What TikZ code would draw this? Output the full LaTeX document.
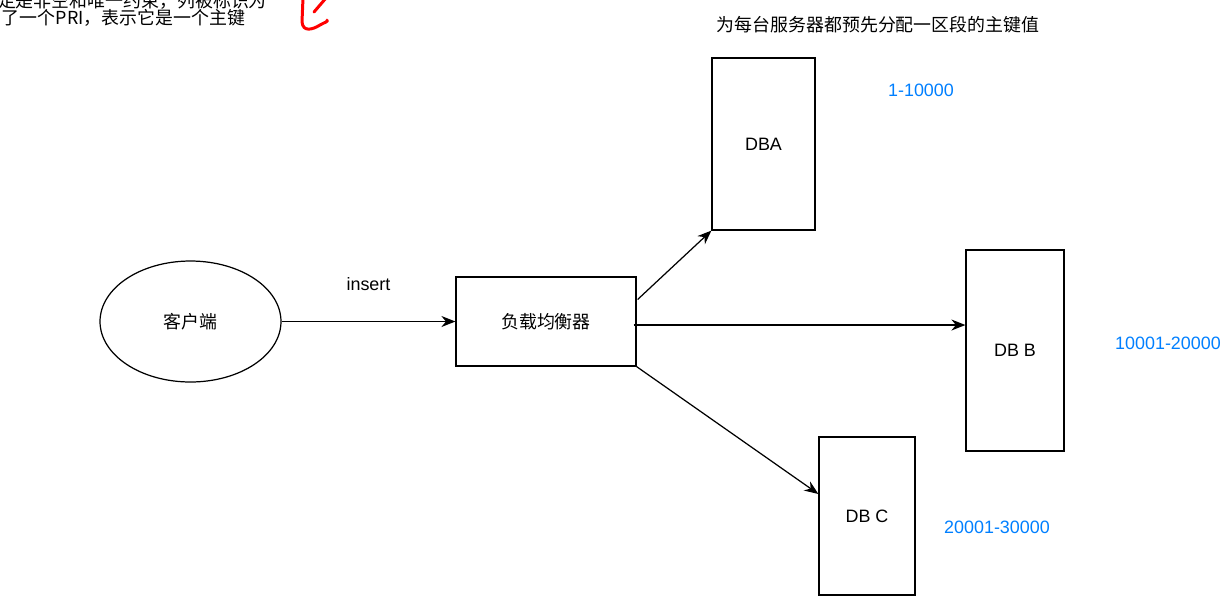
\documentclass[tikz,border=0pt]{standalone}
\usepackage{fontspec}
\setmainfont{Liberation Sans}
\newfontfamily\cjk{Noto Sans CJK SC}
\usetikzlibrary{arrows.meta,calc,positioning,shapes.geometric}
\definecolor{rangeblue}{HTML}{007FFF}
\definecolor{penred}{HTML}{FF0000}

\begin{document}
\begin{tikzpicture}[
  x=0.02cm,
  y=-0.02cm,
  >={Stealth[length=2.8mm,width=2.2mm]},
  font=\fontsize{10.2}{12}\selectfont,
  flow/.style={
    ->,
    black,
    line width=0.7pt
  },
  clientnode/.style={
    draw=black,
    ellipse,
    line width=0.7pt,
    minimum width=3.62cm,
    minimum height=2.42cm,
    inner sep=0pt
  },
  boxnode/.style={
    draw=black,
    rectangle,
    line width=0.7pt,
    align=center,
    inner sep=0pt
  },
  rangetag/.style={
    color=rangeblue,
    inner sep=0pt
  }
]
\useasboundingbox (0,0) rectangle (1230,610);

% note cut off at the top
\node[font=\cjk\fontsize{10.2}{9.8}\selectfont,align=center,inner sep=0pt,anchor=south]
  (note) at (123.5,27)
  {指定是非空和唯一约束，列被标识为\\了一个PRI，表示它是一个主键};

% red pen mark
\draw[penred,line width=1.7pt,line cap=round] (326,-2) -- (314,12);
\draw[penred,line width=1.7pt,line cap=round]
  (303,-2) -- (302,22) .. controls (303,32) and (312,30) .. (320,25)
  .. controls (325,22) and (328,22) .. (327,20);

\node[font=\cjk\fontsize{10.2}{12}\selectfont,inner sep=0pt] (title) at (878,25)
  {为每台服务器都预先分配一区段的主键值};

\node[clientnode] (client) at (190.5,321.5) {\cjk 客户端};

\node[boxnode,minimum width=3.6cm,minimum height=1.78cm] (lb) at (546,321.5)
  {\cjk 负载均衡器};

\node[boxnode,minimum width=2.06cm,minimum height=3.44cm] (dba) at (763.5,144)
  {DBA};
\node[boxnode,minimum width=1.96cm,minimum height=4.02cm] (dbb) at (1015,350.5)
  {DB B};
\node[boxnode,minimum width=1.92cm,minimum height=3.16cm] (dbc) at (867,516)
  {DB C};

\node[rangetag] (rangea) at (921,90) {1-10000};
\node[rangetag] (rangeb) at (1168,343) {10001-20000};
\node[rangetag] (rangec) at (997,527) {20001-30000};

\draw[flow] (client.east) --
  node[above=17pt,inner sep=0pt] (insert) {insert}
  (lb.west);

\draw[flow] ($(lb.east)+(1,-22)$) -- (dba.south west);

\coordinate (split) at ($(lb.east)+(-3,3.5)$);
\draw[flow] (split) -- (split -| dbb.west);

\draw[flow] (lb.south east) -- ($(dbc.west)+(0,-22)$);

\end{tikzpicture}
\end{document}
